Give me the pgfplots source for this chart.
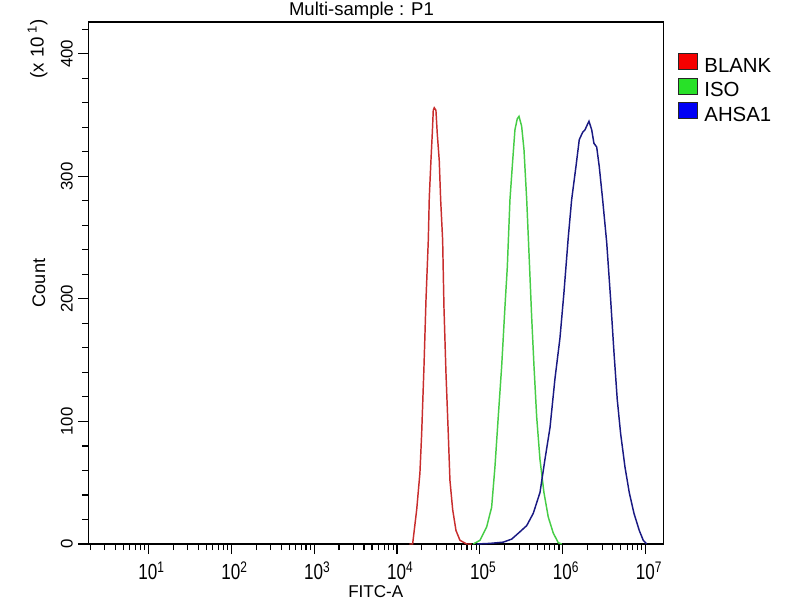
\documentclass[border=0pt]{standalone}
\usepackage{graphicx}
\usepackage{pgfplots}
\usepackage{pgfplotstable}
\pgfplotsset{compat=1.18}
\usepackage{fontspec}
\setmainfont{Liberation Sans}
\definecolor{cred}{RGB}{200,45,45}
\definecolor{cgreen}{RGB}{70,205,70}
\definecolor{cblue}{RGB}{25,25,130}
\definecolor{lred}{RGB}{245,0,0}
\definecolor{lgreen}{RGB}{40,225,40}
\definecolor{lblue}{RGB}{0,0,245}
\newcommand{\xt}[1]{\scalebox{1}[1.28]{10\textsuperscript{#1}}}

% columns: log10(FITC-A)  count (x10)
\pgfplotstableread{
e c
4.150 0
4.189 0
4.238 28
4.277 58
4.298 90
4.326 145
4.350 199
4.378 248
4.390 283
4.410 313
4.426 335
4.438 354
4.450 356
4.470 354
4.486 335
4.510 313
4.527 281
4.551 248
4.567 193
4.591 140
4.619 90
4.639 52
4.672 28
4.712 11
4.760 3
4.841 0
4.901 0
}\blank

\pgfplotstableread{
e c
4.920 0
5.001 3
5.082 14
5.142 30
5.182 63
5.222 104
5.263 145
5.303 194
5.331 226
5.363 281
5.396 313
5.423 338
5.451 347
5.472 349
5.504 341
5.532 322
5.565 281
5.596 232
5.625 185
5.653 145
5.685 104
5.725 69
5.773 42
5.825 22
5.885 9
5.946 1
5.987 0
}\iso

\pgfplotstableread{
e c
4.961 0
5.122 0.5
5.282 1.5
5.384 4
5.484 10
5.565 15
5.644 25
5.725 42
5.785 69
5.846 95
5.906 135
5.966 168
6.014 205
6.066 250
6.107 281
6.159 308
6.199 330
6.240 336
6.268 338
6.288 341
6.316 345
6.349 338
6.376 327
6.409 324
6.440 308
6.481 281
6.530 246
6.578 199
6.618 156
6.657 118
6.698 90
6.750 63
6.802 42
6.859 25
6.923 11
6.971 3
7.012 0
}\ahsa

\begin{document}
\begin{tikzpicture}
\useasboundingbox (0,0) rectangle (600pt,450pt);
\begin{axis}[
  at={(66.2pt,42pt)}, anchor=south west,
  scale only axis, width=431.25pt, height=391.5pt,
  xmode=log, xmin=1.89, xmax=1.63e7,
  ymin=0, ymax=426,
  clip mode=individual,
  xtick={10,100,1000,10000,100000,1000000,10000000},
  xticklabels={\xt{1},\xt{2},\xt{3},\xt{4},\xt{5},\xt{6},\xt{7}},
  minor xtick={2,3,4,5,6,7,8,9,20,30,40,50,60,70,80,90,200,300,400,500,600,700,800,900,2000,3000,4000,5000,6000,7000,8000,9000,20000,30000,40000,50000,60000,70000,80000,90000,200000,300000,400000,500000,600000,700000,800000,900000,2000000,3000000,4000000,5000000,6000000,7000000,8000000,9000000},
  ytick={0,100,200,300,400},
  yticklabels={0,100,200,300,400},
  minor ytick={20,40,60,80,120,140,160,180,220,240,260,280,320,340,360,380,420},
  tick align=outside, tick pos=left,
  major tick length=7.5pt, minor tick length=4.5pt,
  every tick/.style={black, line width=0.8pt},
  axis line style={line width=1.1pt},
  xticklabel style={font=\fontsize{12.8}{14}\selectfont, inner sep=1pt, yshift=-4.5pt, xshift=2.5pt},
  yticklabel style={font=\fontsize{12.6}{14}\selectfont, rotate=90, anchor=south, inner sep=4pt},
  xlabel={FITC-A},
  xlabel style={at={(axis description cs:0.5,-0.1025)}, anchor=base, inner sep=0pt, font=\fontsize{12.8}{14}\selectfont},
  ylabel={Count},
  ylabel style={at={(axis description cs:-0.0857,0.5)}, anchor=center, font=\fontsize{13.6}{15}\selectfont},
  legend style={at={(axis description cs:1.0256,0.9406)}, anchor=north west,
    draw=none, fill=none, inner sep=0pt, row sep=2.65pt, column sep=4pt,
    font=\fontsize{15.3}{18}\selectfont,
    nodes={inner sep=1pt, text height=11.2pt, text depth=0pt}},
  legend cell align=left,
]
\addlegendimage{legend image code/.code={\draw[line width=0.6pt, draw=black!85, fill=lred] (0pt,-3.35pt) rectangle (14pt,8.65pt);}}
\addlegendentry{BLANK}
\addlegendimage{legend image code/.code={\draw[line width=0.6pt, draw=black!85, fill=lgreen] (0pt,-3.35pt) rectangle (14pt,8.65pt);}}
\addlegendentry{ISO}
\addlegendimage{legend image code/.code={\draw[line width=0.6pt, draw=black!85, fill=lblue] (0pt,-3.35pt) rectangle (14pt,8.65pt);}}
\addlegendentry{AHSA1}

\addplot[forget plot, cred, line width=1.1pt, sharp plot] table[x expr={10^\thisrow{e}}, y=c] {\blank};
\addplot[forget plot, cgreen, line width=1.1pt, sharp plot] table[x expr={10^\thisrow{e}}, y=c] {\iso};
\addplot[forget plot, cblue, line width=1.1pt, sharp plot] table[x expr={10^\thisrow{e}}, y=c] {\ahsa};

\node[anchor=base, font=\fontsize{13.9}{16}\selectfont] at (axis description cs:0.4751,1.0115) {Multi-sample : P1};
\node[rotate=90, font=\fontsize{14}{15}\selectfont] at (axis description cs:-0.0883,0.948) {(x 10\,\textsuperscript{1})};
\end{axis}
\end{tikzpicture}
\end{document}
